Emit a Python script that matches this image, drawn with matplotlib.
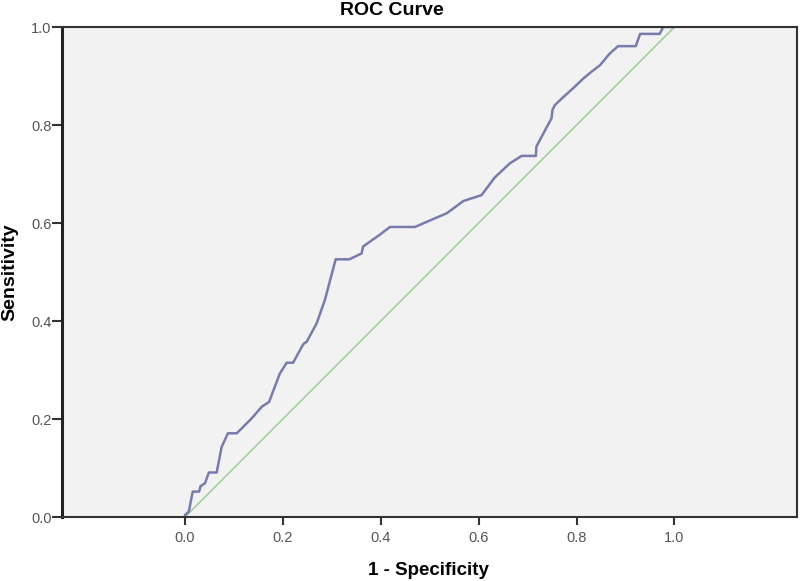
import matplotlib.pyplot as plt

plt.rcParams["font.family"] = ["Liberation Sans", "DejaVu Sans"]

# ROC points (1 - specificity, sensitivity)
fpr = [0.000, 0.000, 0.008, 0.016, 0.029, 0.032, 0.041, 0.049, 0.065, 0.075,
       0.088, 0.106, 0.119, 0.136, 0.157, 0.172, 0.194, 0.208, 0.221, 0.242,
       0.249, 0.269, 0.286, 0.308, 0.336, 0.361, 0.364, 0.378, 0.398, 0.419,
       0.470, 0.500, 0.535, 0.569, 0.606, 0.633, 0.664, 0.688, 0.717, 0.718,
       0.749, 0.751, 0.756, 0.773, 0.793, 0.814, 0.831, 0.848, 0.868, 0.885,
       0.921, 0.930, 0.970, 0.977, 1.000]
tpr = [0.000, 0.004, 0.011, 0.052, 0.052, 0.063, 0.069, 0.091, 0.091, 0.143,
       0.171, 0.171, 0.184, 0.201, 0.225, 0.235, 0.293, 0.315, 0.315, 0.353,
       0.358, 0.395, 0.443, 0.526, 0.526, 0.538, 0.552, 0.562, 0.576, 0.592,
       0.592, 0.605, 0.620, 0.645, 0.657, 0.693, 0.722, 0.737, 0.737, 0.756,
       0.814, 0.831, 0.841, 0.857, 0.875, 0.895, 0.909, 0.922, 0.946, 0.961,
       0.961, 0.986, 0.986, 1.000, 1.000]
ref_line = [0.0, 1.0]
ticks = [0.0, 0.2, 0.4, 0.6, 0.8, 1.0]

fig = plt.figure(figsize=(8, 5.81), dpi=100)
ax = fig.add_axes([0.0775, 0.110, 0.9185, 0.8435])
ax.set_facecolor("#f2f2f2")

ax.plot(ref_line, ref_line, color="#98cf94", lw=1.1)
ax.plot(fpr, tpr, color="#777cab", lw=1.8, solid_joinstyle="round")

ax.set_xlim(-0.251, 1.25)
ax.set_ylim(0, 1.0)
ax.set_xticks(ticks)
ax.set_yticks(ticks)
ax.set_xticklabels([f"{t:.1f}" for t in ticks])
ax.set_yticklabels([f"{t:.1f}" for t in ticks])
ax.tick_params(axis="both", labelsize=10.5, labelcolor="#555555", color="#333333")
ax.tick_params(axis="x", length=6, width=1.5, pad=4)
ax.tick_params(axis="y", length=7, width=1.5, pad=0.5)

for side in ["top", "right", "bottom"]:
    ax.spines[side].set_color("#333333")
    ax.spines[side].set_linewidth(1.5)
ax.spines["left"].set_color("#222222")
ax.spines["left"].set_linewidth(2.2)

ax.set_xlabel("1 - Specificity", fontsize=13.5, fontweight="bold")
ax.set_ylabel("Sensitivity", fontsize=14, fontweight="bold")
ax.xaxis.set_label_coords(0.4985, -0.092)
ax.yaxis.set_label_coords(-0.060, 0.5)

fig.text(0.49, 0.982, "ROC Curve", fontsize=14, fontweight="bold",
         ha="center", va="center")

fig.savefig("out.png", dpi=100)
